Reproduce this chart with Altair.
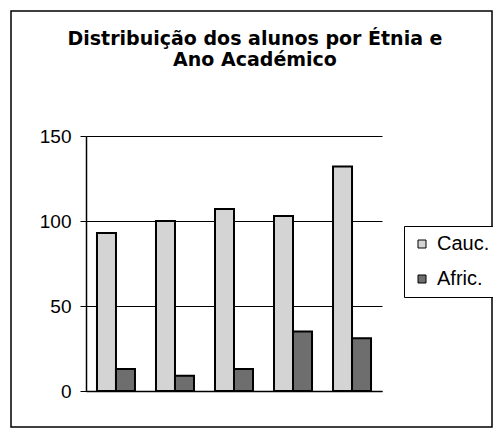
import altair as alt
import pandas as pd

# ---- data ----
anos = ["1º Ano", "2º Ano", "3º Ano", "4º Ano", "5º Ano"]
series = ["Cauc.", "Afric."]
cauc = [93, 100, 107, 103, 132]
afric = [13, 9, 13, 35, 31]
fills = ["#d4d4d4", "#6e6e6e"]
y_ticks = [0, 50, 100, 150]
title_lines = ["Distribuição dos alunos por Étnia e", "Ano Académico"]

rows = []
for i, a in enumerate(anos):
    rows.append({"ano": a, "serie": series[0], "valor": cauc[i]})
    rows.append({"ano": a, "serie": series[1], "valor": afric[i]})
df = pd.DataFrame(rows)

W, H = 296, 255
FONT = "Liberation Sans"

bars = alt.Chart(df).mark_bar(stroke="black", strokeWidth=2).encode(
    x=alt.X(
        "ano:N",
        sort=anos,
        scale=alt.Scale(paddingInner=0.356, paddingOuter=0.186),
        axis=alt.Axis(labels=False, ticks=False, title=None,
                      domainColor="black", domainWidth=1.5),
    ),
    xOffset=alt.XOffset("serie:N", sort=series,
                        scale=alt.Scale(paddingInner=0, paddingOuter=0)),
    y=alt.Y(
        "valor:Q",
        scale=alt.Scale(domain=[0, 150], nice=False),
        axis=alt.Axis(values=y_ticks, title=None, grid=True, gridColor="black",
                      gridWidth=1, gridOpacity=1, domainColor="black",
                      domainWidth=1.5, tickColor="black", tickSize=6,
                      labelFont=FONT, labelFontSize=19, labelColor="black",
                      labelPadding=9),
    ),
    color=alt.Color(
        "serie:N",
        sort=series,
        scale=alt.Scale(domain=series, range=fills),
        legend=alt.Legend(
            title=None, orient="none", legendX=318, legendY=90,
            strokeColor="black", fillColor="white", padding=8,
            symbolType="square", symbolSize=64, symbolStrokeColor="black",
            symbolStrokeWidth=1, labelFont=FONT, labelFontSize=20,
            labelColor="black", labelOffset=5, rowPadding=15,
        ),
    ),
)

single = pd.DataFrame({"k": [0]})

frame = alt.Chart(single).mark_rect(
    fill="transparent", stroke="black", strokeWidth=1.5
).encode(
    x=alt.value(-75), x2=alt.value(406),
    y=alt.value(-125), y2=alt.value(291),
)

title = alt.Chart(single).mark_text(
    text=title_lines, font="DejaVu Sans", fontSize=19, fontWeight="bold",
    color="black", align="center", baseline="alphabetic", lineHeight=21,
).encode(
    x=alt.value(169), y=alt.value(-91),
)

chart = alt.layer(bars, frame, title).properties(
    width=W,
    height=H,
    autosize=alt.AutoSizeParams(type="none"),
    padding={"left": 78, "top": 128, "right": 111, "bottom": 37},
    background="white",
).configure_view(stroke=None)

chart.save("out.html", embed_options={"renderer": "svg", "actions": False})
